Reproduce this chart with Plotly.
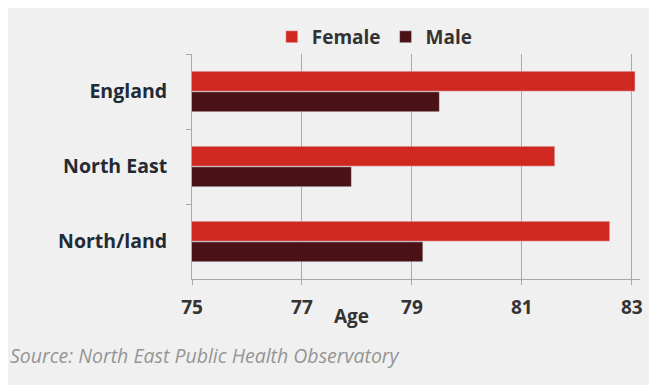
import plotly.graph_objects as go

regions = ["England", "North East", "North/land"]
female = [83.06, 81.6, 82.6]
male = [79.5, 77.9, 79.2]
x_ticks = [75, 77, 79, 81, 83]

bg = "#f0f0f0"
font = "Open Sans"

fig = go.Figure()
fig.add_trace(go.Bar(y=regions, x=female, name="Female", orientation="h",
                     marker_color="#cf2820"))
fig.add_trace(go.Bar(y=regions, x=male, name="Male", orientation="h",
                     marker_color="#4a1216"))

# page has an 8px body margin, so figure coords are screen - 8
fig.update_layout(
    width=657, height=385,
    paper_bgcolor=bg, plot_bgcolor=bg,
    margin=dict(l=184, r=25, t=46, b=114, autoexpand=False),
    barmode="group", bargap=0.45, bargroupgap=0.03,
    font=dict(family=font, color="#333333"),
    legend=dict(orientation="h", x=0.408, xanchor="center", y=1.076, yanchor="middle",
                font=dict(size=19, color="#333333", weight="bold"),
                itemwidth=30, bgcolor="rgba(0,0,0,0)"),
    showlegend=True,
)
fig.update_xaxes(
    range=[75, 83.15], tickvals=x_ticks, ticktext=[str(v) for v in x_ticks],
    showgrid=True, gridcolor="#a8a8a8", gridwidth=1,
    showline=True, linecolor="#a8a8a8", ticks="outside", ticklen=5,
    tickcolor="#a8a8a8", zeroline=False, automargin=False,
    ticklabelstandoff=6,
    tickfont=dict(size=19, color="#333333", weight="bold"),
)
fig.update_yaxes(
    autorange="reversed", showgrid=False, automargin=False,
    showline=True, linecolor="#a8a8a8", ticks="outside", ticklen=5,
    tickcolor="#a8a8a8", tickson="boundaries", ticklabelstandoff=20,
    tickfont=dict(size=19.5, color="#222a35", weight="bold"),
)
fig.add_annotation(text="Age", xref="paper", yref="paper", x=0.357, y=-0.164,
                   showarrow=False, xanchor="center", yanchor="middle",
                   font=dict(size=19, color="#333333", weight="bold"))
fig.add_annotation(text="<i>Source: North East Public Health Observatory</i>",
                   xref="paper", yref="paper", x=-184 / 448, y=-0.338,
                   showarrow=False, xanchor="left", yanchor="middle",
                   font=dict(size=19.5, color="#959595", family="Open Sans"))

fig.write_html("out.html")
